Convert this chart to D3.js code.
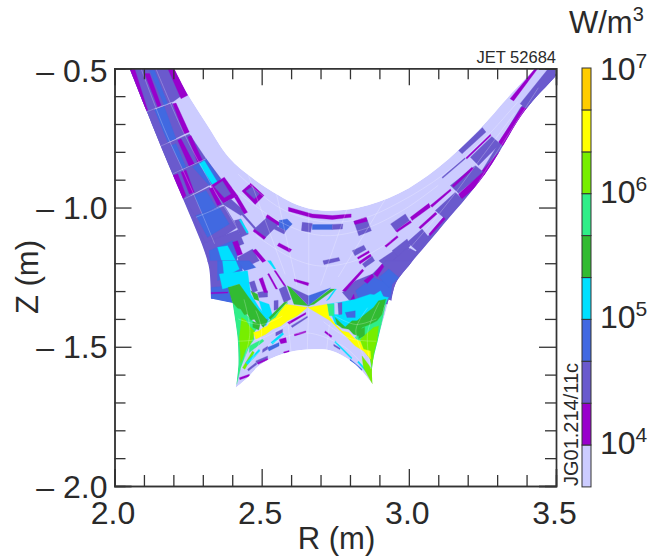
<!DOCTYPE html>
<html>
<head>
<meta charset="utf-8">
<script src="https://cdn.jsdelivr.net/npm/d3@7"></script>
<style>
    html, body { margin: 0; padding: 0; background: #fff; }
    svg { display: block; }
    text { font-family: "Liberation Sans", Arial, sans-serif; fill: #2a2a2a; }
</style>
</head>
<body>
<svg id="chart"></svg>
<script>
const WIDTH = 649;
const HEIGHT = 560;
const MARGIN = { top: 68.3, right: 93, bottom: 74, left: 114.5 };
const INNER_WIDTH = WIDTH - MARGIN.left - MARGIN.right;
const INNER_HEIGHT = HEIGHT - MARGIN.top - MARGIN.bottom;

// colour bar, bottom to top
const levelEdges = [4640, 1e4, 21500, 46400, 1e5, 215000, 464000, 1e6, 2150000, 4640000, 1e7];
const levelColors = ['#ccccff', '#9900cc', '#6a5acd', '#4169e1', '#00e0ff', '#32bb32', '#2fee88', '#77ee00', '#ffff00', '#ffcc00'];
const barTicks = [1e4, 1e5, 1e6, 1e7];

const rMajor = [2, 2.5, 3, 3.5];
const rMinor = [2.1, 2.2, 2.3, 2.4, 2.6, 2.7, 2.8, 2.9, 3.1, 3.2, 3.3, 3.4];
const zMajor = [-0.5, -1, -1.5, -2];
const zMinor = [-0.6, -0.7, -0.8, -0.9, -1.1, -1.2, -1.3, -1.4, -1.6, -1.7, -1.8, -1.9];

// grid outline in R, Z, one smooth run per side
const outlineRuns = [
    [[2.051, -0.5], [2.108, -0.651], [2.196, -0.878], [2.264, -1.047], [2.305, -1.155], [2.322, -1.22], [2.328, -1.327]],
    [[2.401, -1.343], [2.407, -1.383], [2.418, -1.467], [2.421, -1.563], [2.412, -1.647]],
    [[2.412, -1.647], [2.452, -1.611], [2.497, -1.563], [2.588, -1.521], [2.678, -1.509], [2.739, -1.515], [2.818, -1.563], [2.877, -1.635]],
    [[2.877, -1.635], [2.875, -1.575], [2.897, -1.467], [2.925, -1.359], [2.931, -1.329]],
    [[2.941, -1.335], [2.955, -1.273], [3.006, -1.201], [3.1, -1.083], [3.26, -0.878], [3.395, -0.651], [3.497, -0.53], [3.52, -0.5]],
    [[3.429, -0.5], [3.337, -0.604], [3.236, -0.723], [3.1, -0.856], [2.965, -0.95], [2.83, -1.0], [2.704, -1.011], [2.62, -0.99], [2.559, -0.957], [2.47, -0.895], [2.389, -0.82], [2.312, -0.698], [2.247, -0.59], [2.203, -0.5]]
];

// [level, R, Z, R, Z, ...]
const edgeBands = [
    [2, 2.03,-.5, 2.09,-.66, 2.18,-.88, 2.25,-1.05, 2.29,-1.16, 2.31,-1.2, 2.36,-1.2, 2.33,-1.15, 2.29,-1.03, 2.22,-.87, 2.14,-.66, 2.08,-.5],
    [2, 2.92,-1.33, 2.95,-1.26, 3.0,-1.19, 3.09,-1.07, 3.25,-.865, 3.38,-.64, 3.5,-.52, 3.52,-.55, 3.41,-.66, 3.28,-.88, 3.11,-1.1, 3.02,-1.21, 2.97,-1.28, 2.95,-1.35]
];

const leftLegPatches = [
    [2, 2.051,-.501, 2.192,-.501, 2.237,-.591, 2.198,-.621, 2.107,-.657],
    [1, 2.04,-.501, 2.068,-.501, 2.113,-.651, 2.09,-.661],
    [1, 2.181,-.501, 2.203,-.501, 2.249,-.597, 2.226,-.609],
    [1, 2.102,-.519, 2.119,-.519, 2.158,-.633, 2.147,-.639],
    [3, 2.119,-.507, 2.136,-.507, 2.181,-.627, 2.169,-.633],
    [2, 2.105,-.661, 2.195,-.625, 2.252,-.729, 2.153,-.781],
    [3, 2.136,-.649, 2.169,-.637, 2.209,-.753, 2.181,-.765],
    [1, 2.198,-.627, 2.209,-.625, 2.254,-.729, 2.237,-.735],
    [2, 2.153,-.781, 2.254,-.735, 2.311,-.825, 2.198,-.879],
    [1, 2.215,-.759, 2.226,-.753, 2.271,-.843, 2.254,-.853],
    [1, 2.249,-.747, 2.26,-.741, 2.299,-.831, 2.282,-.837],
    [3, 2.192,-.777, 2.209,-.771, 2.243,-.855, 2.232,-.861],
    [2, 2.198,-.879, 2.311,-.825, 2.362,-.897, 2.237,-.969],
    [3, 2.266,-.855, 2.311,-.825, 2.362,-.903, 2.322,-.921],
    [4, 2.288,-.843, 2.305,-.831, 2.35,-.909, 2.333,-.917],
    [1, 2.198,-.885, 2.215,-.879, 2.243,-.957, 2.232,-.969],
    [1, 2.226,-.873, 2.243,-.865, 2.271,-.945, 2.254,-.951],
    [1, 2.328,-.921, 2.373,-.891, 2.418,-.957, 2.367,-.987],
    [2, 2.339,-.925, 2.367,-.905, 2.395,-.951, 2.373,-.965],
    [1, 2.433,-.941, 2.463,-.913, 2.508,-.957, 2.478,-.989],
    [2, 2.446,-.941, 2.467,-.925, 2.492,-.951, 2.475,-.969],
    [2, 2.237,-.969, 2.322,-.925, 2.373,-.987, 2.277,-1.035],
    [3, 2.271,-.957, 2.311,-.939, 2.345,-.999, 2.299,-1.023],
    [1, 2.322,-.933, 2.333,-.927, 2.362,-.987, 2.35,-.993],
    [2, 2.266,-1.035, 2.373,-.993, 2.418,-1.071, 2.316,-1.143],
    [3, 2.277,-1.029, 2.356,-.999, 2.39,-1.059, 2.316,-1.107],
    [2, 2.367,-.987, 2.395,-.969, 2.446,-1.017, 2.429,-1.029],
    [1, 2.407,-.963, 2.418,-.957, 2.452,-1.017, 2.441,-1.023],
    [2, 2.407,-1.047, 2.429,-1.041, 2.455,-1.095, 2.429,-1.107],
    [4, 2.424,-1.045, 2.429,-1.041, 2.455,-1.089, 2.45,-1.093],
    [2, 2.475,-1.077, 2.525,-1.029, 2.559,-1.059, 2.508,-1.113],
    [1, 2.52,-1.025, 2.559,-1.053, 2.559,-1.065, 2.514,-1.035],
    [1, 2.475,-1.077, 2.514,-1.107, 2.508,-1.115, 2.471,-1.085],
    [2, 2.39,-.975, 2.395,-.971, 2.48,-1.073, 2.475,-1.077],
    [2, 2.3,-1.13, 2.42,-1.08, 2.44,-1.13, 2.32,-1.18],
    [3, 2.322,-1.155, 2.401,-1.119, 2.418,-1.167, 2.412,-1.221, 2.373,-1.239, 2.328,-1.251],
    [4, 2.35,-1.143, 2.384,-1.137, 2.418,-1.203, 2.373,-1.221],
    [2, 2.418,-1.179, 2.469,-1.149, 2.492,-1.191, 2.429,-1.221],
    [1, 2.401,-1.125, 2.418,-1.119, 2.435,-1.167, 2.418,-1.173],
    [1, 2.469,-1.155, 2.48,-1.149, 2.514,-1.191, 2.503,-1.197]
];

const crownPatches = [
    [1, 2.591,-.999, 2.672,-1.023, 2.74,-1.029, 2.804,-1.023, 2.804,-1.035, 2.74,-1.043, 2.672,-1.037, 2.591,-1.013],
    [2, 2.813,-1.049, 2.855,-1.035, 2.873,-1.083, 2.83,-1.101],
    [1, 2.813,-1.049, 2.855,-1.035, 2.859,-1.049, 2.817,-1.061],
    [3, 2.672,-1.061, 2.74,-1.061, 2.74,-1.079, 2.672,-1.079],
    [2, 2.638,-1.053, 2.672,-1.057, 2.666,-1.089, 2.635,-1.083],
    [2, 2.74,-1.061, 2.776,-1.059, 2.774,-1.077, 2.74,-1.079],
    [3, 2.559,-1.047, 2.587,-1.041, 2.604,-1.059, 2.582,-1.083, 2.559,-1.071],
    [2, 2.548,-1.065, 2.582,-1.083, 2.576,-1.095, 2.542,-1.077],
    [1, 2.559,-1.127, 2.602,-1.151, 2.595,-1.161, 2.553,-1.137],
    [2, 2.708,-1.191, 2.762,-1.179, 2.766,-1.191, 2.712,-1.205],
    [1, 2.61,-1.257, 2.661,-1.271, 2.658,-1.281, 2.612,-1.265],
    [2, 2.808,-1.155, 2.847,-1.135, 2.855,-1.151, 2.817,-1.173],
    [1, 2.825,-1.179, 2.864,-1.155, 2.866,-1.162, 2.828,-1.186],
    [1, 2.83,-1.195, 2.869,-1.167, 2.873,-1.175, 2.834,-1.203],
    [2, 2.842,-1.203, 2.875,-1.175, 2.884,-1.191, 2.851,-1.215],
    [2, 2.938,-1.059, 2.988,-1.023, 3.002,-1.047, 2.955,-1.083],
    [1, 2.955,-1.083, 3.005,-1.047, 3.009,-1.054, 2.96,-1.089],
    [1, 3.005,-1.035, 3.068,-.985, 3.073,-.999, 3.011,-1.047]
];

const rightLegPatches = [
    [2, 3.378,-.627, 3.474,-.501, 3.497,-.501, 3.497,-.555, 3.401,-.645],
    [1, 3.401,-.645, 3.497,-.537, 3.52,-.55, 3.409,-.665],
    [1, 3.344,-.609, 3.429,-.501, 3.438,-.501, 3.356,-.617],
    [1, 3.305,-.765, 3.384,-.639, 3.41,-.649, 3.327,-.787],
    [2, 3.209,-.819, 3.282,-.745, 3.31,-.771, 3.237,-.849],
    [2, 3.169,-.795, 3.25,-.713, 3.262,-.729, 3.181,-.807],
    [1, 3.194,-.821, 3.277,-.737, 3.279,-.742, 3.197,-.826],
    [2, 3.113,-.891, 3.19,-.821, 3.192,-.825, 3.115,-.895],
    [1, 3.248,-.869, 3.327,-.777, 3.34,-.795, 3.26,-.891],
    [2, 3.141,-.921, 3.226,-.849, 3.254,-.873, 3.169,-.949],
    [1, 3.147,-.921, 3.214,-.855, 3.22,-.861, 3.152,-.927],
    [1, 3.169,-.951, 3.251,-.873, 3.265,-.891, 3.178,-.971],
    [2, 3.09,-1.011, 3.158,-.945, 3.186,-.975, 3.124,-1.041],
    [1, 3.068,-1.095, 3.118,-1.035, 3.124,-1.041, 3.073,-1.101],
    [1, 3.073,-.993, 3.141,-.933, 3.144,-.939, 3.079,-.999],
    [1, 3.034,-1.071, 3.09,-1.017, 3.096,-1.023, 3.039,-1.077],
    [2, 2.994,-1.125, 3.045,-1.077, 3.068,-1.107, 3.028,-1.155],
    [2, 2.898,-1.191, 2.949,-1.155, 2.971,-1.179, 2.926,-1.215],
    [1, 2.918,-1.137, 2.96,-1.101, 2.964,-1.107, 2.923,-1.143],
    [2, 2.943,-1.155, 2.994,-1.113, 3.005,-1.137, 2.966,-1.179],
    [2, 2.938,-1.197, 2.997,-1.143, 3.028,-1.161, 2.971,-1.239],
    [1, 2.881,-1.239, 2.909,-1.203, 2.915,-1.209, 2.887,-1.245]
];

const xPointPatches = [
    // left wing
    [2, 2.311,-1.191, 2.424,-1.191, 2.435,-1.221, 2.384,-1.245, 2.384,-1.299, 2.328,-1.335, 2.32,-1.263],
    [3, 2.328,-1.287, 2.39,-1.281, 2.401,-1.343, 2.328,-1.329],
    [1, 2.328,-1.305, 2.385,-1.303, 2.385,-1.307, 2.328,-1.31],
    [3, 2.35,-1.191, 2.424,-1.191, 2.435,-1.227, 2.35,-1.263],
    [4, 2.367,-1.191, 2.412,-1.191, 2.424,-1.221, 2.373,-1.251],
    [3, 2.418,-1.191, 2.458,-1.191, 2.48,-1.215, 2.441,-1.227],
    [4, 2.52,-1.191, 2.531,-1.191, 2.548,-1.221, 2.542,-1.221],
    // left divertor
    [4, 2.356,-1.239, 2.452,-1.227, 2.458,-1.275, 2.463,-1.311, 2.491,-1.359, 2.525,-1.401, 2.514,-1.425, 2.452,-1.323, 2.424,-1.275, 2.386,-1.287, 2.367,-1.293],
    [4, 2.491,-1.335, 2.525,-1.347, 2.537,-1.389, 2.525,-1.401, 2.503,-1.377],
    [5, 2.463,-1.299, 2.486,-1.311, 2.491,-1.335, 2.475,-1.329],
    [2, 2.458,-1.269, 2.475,-1.263, 2.486,-1.299, 2.469,-1.305],
    [2, 2.486,-1.305, 2.52,-1.299, 2.52,-1.321, 2.491,-1.323],
    [2, 2.542,-1.335, 2.556,-1.333, 2.556,-1.365, 2.542,-1.369],
    [2, 2.559,-1.293, 2.582,-1.281, 2.599,-1.329, 2.576,-1.341],
    [2, 2.508,-1.401, 2.52,-1.401, 2.514,-1.419, 2.506,-1.419],
    [1, 2.491,-1.257, 2.503,-1.251, 2.52,-1.305, 2.508,-1.305],
    [1, 2.52,-1.239, 2.525,-1.237, 2.554,-1.293, 2.548,-1.293],
    [1, 2.542,-1.227, 2.548,-1.227, 2.582,-1.281, 2.576,-1.281],
    [6, 2.401,-1.341, 2.441,-1.377, 2.469,-1.407, 2.491,-1.425, 2.469,-1.455, 2.475,-1.473, 2.458,-1.497, 2.429,-1.575, 2.415,-1.635, 2.421,-1.563, 2.418,-1.467],
    [5, 2.386,-1.287, 2.424,-1.275, 2.452,-1.317, 2.491,-1.371, 2.52,-1.407, 2.506,-1.431, 2.495,-1.417, 2.486,-1.419, 2.475,-1.401, 2.463,-1.405, 2.452,-1.383, 2.441,-1.385, 2.429,-1.365, 2.418,-1.361, 2.401,-1.341],
    [5, 2.47,-1.41, 2.495,-1.417, 2.49,-1.44, 2.47,-1.43],
    [7, 2.432,-1.395, 2.446,-1.405, 2.458,-1.425, 2.475,-1.443, 2.472,-1.467, 2.458,-1.497, 2.446,-1.509, 2.438,-1.533, 2.429,-1.557, 2.427,-1.515, 2.424,-1.467],
    [5, 2.525,-1.395, 2.576,-1.341, 2.588,-1.337, 2.548,-1.383, 2.531,-1.407],
    [6, 2.52,-1.413, 2.548,-1.383, 2.588,-1.341, 2.585,-1.353, 2.548,-1.395, 2.531,-1.407],
    [8, 2.472,-1.449, 2.491,-1.443, 2.503,-1.433, 2.52,-1.425, 2.531,-1.407, 2.548,-1.395, 2.559,-1.377, 2.582,-1.347, 2.655,-1.359, 2.621,-1.389, 2.588,-1.407, 2.565,-1.425, 2.537,-1.437, 2.514,-1.455, 2.48,-1.473],
    // above the X point
    [5, 2.587,-1.281, 2.599,-1.287, 2.658,-1.353, 2.61,-1.347],
    [2, 2.599,-1.287, 2.659,-1.317, 2.659,-1.353],
    [3, 2.659,-1.353, 2.659,-1.317, 2.734,-1.289],
    [5, 2.659,-1.353, 2.734,-1.293, 2.749,-1.293, 2.678,-1.347],
    [4, 2.749,-1.293, 2.754,-1.293, 2.729,-1.329, 2.72,-1.335],
    // right wing
    [2, 2.774,-1.305, 2.819,-1.263, 2.876,-1.239, 2.921,-1.191, 3.011,-1.191, 2.989,-1.239, 2.943,-1.311, 2.932,-1.347, 2.853,-1.341, 2.819,-1.359],
    [3, 2.819,-1.299, 2.876,-1.251, 2.943,-1.275, 2.938,-1.323, 2.842,-1.359],
    [3, 2.898,-1.251, 2.932,-1.221, 2.966,-1.251, 2.932,-1.287],
    [4, 2.859,-1.329, 2.904,-1.299, 2.915,-1.323, 2.876,-1.347],
    [1, 2.774,-1.299, 2.842,-1.221, 2.847,-1.227, 2.785,-1.301],
    [1, 2.797,-1.341, 2.813,-1.311, 2.817,-1.335, 2.808,-1.341],
    [1, 2.847,-1.263, 2.876,-1.239, 2.881,-1.249, 2.859,-1.273],
    [1, 2.881,-1.239, 2.91,-1.203, 2.915,-1.213, 2.893,-1.249],
    // right divertor
    [4, 2.722,-1.347, 2.762,-1.341, 2.818,-1.329, 2.869,-1.311, 2.931,-1.323, 2.92,-1.347, 2.841,-1.407, 2.784,-1.431, 2.75,-1.419, 2.739,-1.389],
    [0, 2.747,-1.343, 2.759,-1.343, 2.762,-1.383, 2.748,-1.383],
    [2, 2.759,-1.343, 2.773,-1.341, 2.773,-1.383, 2.762,-1.385],
    [3, 2.784,-1.377, 2.818,-1.371, 2.818,-1.395, 2.79,-1.395],
    [6, 2.722,-1.347, 2.745,-1.347, 2.745,-1.389, 2.728,-1.389],
    [6, 2.818,-1.467, 2.841,-1.431, 2.909,-1.383, 2.925,-1.329, 2.914,-1.383, 2.897,-1.467, 2.88,-1.635, 2.869,-1.539, 2.846,-1.509],
    [5, 2.75,-1.395, 2.767,-1.413, 2.784,-1.429, 2.807,-1.407, 2.824,-1.407, 2.858,-1.377, 2.88,-1.359, 2.897,-1.335, 2.922,-1.329, 2.909,-1.383, 2.892,-1.407, 2.869,-1.419, 2.841,-1.431, 2.829,-1.461, 2.812,-1.455, 2.796,-1.437, 2.773,-1.433, 2.756,-1.419],
    [5, 2.83,-1.44, 2.85,-1.43, 2.85,-1.46, 2.83,-1.47],
    [7, 2.835,-1.473, 2.88,-1.431, 2.897,-1.425, 2.892,-1.479, 2.88,-1.527, 2.877,-1.587, 2.869,-1.545, 2.846,-1.509],
    [8, 2.657,-1.359, 2.722,-1.347, 2.728,-1.389, 2.75,-1.419, 2.773,-1.443, 2.796,-1.449, 2.818,-1.473, 2.835,-1.479, 2.846,-1.509, 2.869,-1.515, 2.871,-1.545, 2.846,-1.515, 2.818,-1.497, 2.79,-1.467, 2.767,-1.443, 2.733,-1.407]
];

const lowerDashes = [
    [2, 2.548,-1.449, 2.571,-1.437, 2.571,-1.449, 2.548,-1.461],
    [4, 2.531,-1.485, 2.571,-1.449, 2.575,-1.455, 2.537,-1.491],
    [1, 2.559,-1.473, 2.582,-1.467, 2.585,-1.485, 2.565,-1.489],
    [3, 2.52,-1.503, 2.559,-1.485, 2.559,-1.497, 2.525,-1.515],
    [2, 2.503,-1.509, 2.52,-1.497, 2.52,-1.509, 2.503,-1.521],
    [1, 2.61,-1.455, 2.65,-1.443, 2.65,-1.449, 2.612,-1.461],
    [1, 2.574,-1.519, 2.593,-1.513, 2.593,-1.519, 2.576,-1.523],
    [2, 2.48,-1.551, 2.52,-1.533, 2.52,-1.541, 2.484,-1.561],
    [7, 2.435,-1.575, 2.469,-1.515, 2.475,-1.521, 2.443,-1.581],
    [4, 2.446,-1.557, 2.491,-1.509, 2.495,-1.515, 2.452,-1.565],
    [6, 2.458,-1.497, 2.503,-1.473, 2.508,-1.479, 2.458,-1.521],
    [2, 2.452,-1.581, 2.48,-1.557, 2.484,-1.563, 2.455,-1.587],
    [1, 2.424,-1.611, 2.458,-1.599, 2.459,-1.606, 2.426,-1.618],
    [1, 2.486,-1.557, 2.52,-1.541, 2.521,-1.547, 2.488,-1.563],
    [2, 2.6,-1.425, 2.655,-1.39, 2.656,-1.395, 2.604,-1.431],
    [1, 2.588,-1.413, 2.65,-1.377, 2.65,-1.383, 2.593,-1.419],
    [1, 2.716,-1.443, 2.739,-1.461, 2.736,-1.467, 2.714,-1.449],
    [1, 2.733,-1.521, 2.762,-1.537, 2.759,-1.543, 2.733,-1.527],
    [2, 2.745,-1.491, 2.767,-1.505, 2.765,-1.51, 2.745,-1.497],
    [4, 2.75,-1.479, 2.807,-1.539, 2.805,-1.544, 2.748,-1.484],
    [3, 2.801,-1.545, 2.841,-1.581, 2.839,-1.586, 2.799,-1.55],
    [1, 2.812,-1.575, 2.835,-1.593, 2.833,-1.598, 2.81,-1.58],
    [4, 2.829,-1.551, 2.869,-1.599, 2.866,-1.604, 2.826,-1.556],
    [7, 2.841,-1.533, 2.875,-1.581, 2.877,-1.635, 2.846,-1.575]
];

// faint grid lines, R, Z pairs
const meshLines = [
    [2.66,-1.011, 2.66,-1.35], [2.55,-0.95, 2.62,-1.28], [2.45,-0.87, 2.58,-1.24], [2.79,-1.005, 2.7,-1.28], [2.92,-0.97, 2.76,-1.25],
    [2.4,-0.93, 2.56,-1.05, 2.7,-1.1, 2.84,-1.08, 2.98,-1.01, 3.1,-0.92],
    [2.48,-1.1, 2.6,-1.18, 2.7,-1.21, 2.82,-1.19, 2.94,-1.12],
    [2.42,-0.88, 2.56,-1.0, 2.7,-1.05, 2.84,-1.04, 2.97,-0.98, 3.12,-0.88, 3.26,-0.75, 3.37,-0.62],
    [2.46,-1.55, 2.53,-1.49, 2.65,-1.45, 2.78,-1.5, 2.84,-1.56],
    [2.66,-1.36, 2.655,-1.51], [2.59,-1.42, 2.6,-1.52], [2.73,-1.42, 2.72,-1.52],
    [2.09,-.5, 2.17,-.72, 2.26,-.93, 2.34,-1.13], [2.14,-.5, 2.23,-.72, 2.33,-.92, 2.42,-1.08],
    [2.107,-.657, 2.198,-.621], [2.153,-.781, 2.254,-.735], [2.198,-.879, 2.311,-.825], [2.237,-.969, 2.322,-.925], [2.277,-1.035, 2.373,-.993],
    [3.03,-1.17, 3.16,-1.03, 3.3,-.8, 3.44,-.57], [3.0,-1.15, 3.12,-1.0, 3.24,-.83, 3.36,-.66],
    [2.44,-1.33, 2.46,-1.45, 2.43,-1.58], [2.48,-1.37, 2.5,-1.45, 2.46,-1.56], [2.42,-1.4, 2.5,-1.42, 2.57,-1.39], [2.42,-1.48, 2.5,-1.47, 2.6,-1.41],
    [2.9,-1.34, 2.86,-1.45, 2.87,-1.58], [2.86,-1.36, 2.82,-1.44, 2.85,-1.54], [2.89,-1.4, 2.82,-1.42, 2.75,-1.39], [2.89,-1.48, 2.8,-1.47, 2.71,-1.41]
];

const allPatches = [...edgeBands, ...leftLegPatches, ...crownPatches, ...rightLegPatches, ...xPointPatches, ...lowerDashes];

const svg = d3.select('#chart')
    .attr('width', WIDTH)
    .attr('height', HEIGHT);

const g = svg.append('g')
    .attr('transform', 'translate(' + MARGIN.left + ',' + MARGIN.top + ')');

// scales
const xScale = d3.scaleLinear().domain([2, 3.5]).range([0, INNER_WIDTH]);
const yScale = d3.scaleLinear().domain([-0.5, -2]).range([0, INNER_HEIGHT]);
const barScale = d3.scaleLog().domain([1e7, 1e4]).range([68, 445]);

const toPoints = (flat) => d3.range(0, flat.length, 2).map((i) => [flat[i], flat[i + 1]]);
const line = d3.line().x((d) => xScale(d[0])).y((d) => yScale(d[1]));
const smooth = d3.line().x((d) => xScale(d[0])).y((d) => yScale(d[1])).curve(d3.curveCatmullRom);

// join the runs into one closed path
const outlinePath = outlineRuns
    .map((run, i) => (i === 0 ? smooth(run) : 'L' + smooth(run).slice(1)))
    .join('') + 'Z';

const defs = svg.append('defs');
defs.append('clipPath').attr('id', 'frame-clip').append('rect')
    .attr('width', INNER_WIDTH).attr('height', INNER_HEIGHT);
defs.append('clipPath').attr('id', 'grid-clip').append('path').attr('d', outlinePath);

const plot = g.append('g').attr('clip-path', 'url(#frame-clip)').append('g').attr('clip-path', 'url(#grid-clip)');

plot.append('path')
    .attr('d', outlinePath)
    .attr('fill', levelColors[0]);

plot.selectAll('.patch')
    .data(allPatches)
    .join('path')
    .attr('class', 'patch')
    .attr('d', (d) => line(toPoints(d.slice(1))) + 'Z')
    .attr('fill', (d) => levelColors[d[0]])
    .attr('stroke', (d) => levelColors[d[0]])
    .attr('stroke-width', 0.3);

plot.selectAll('.mesh')
    .data(meshLines)
    .join('path')
    .attr('class', 'mesh')
    .attr('d', (d) => smooth(toPoints(d)))
    .attr('fill', 'none')
    .attr('stroke', '#fff')
    .attr('stroke-opacity', 0.3)
    .attr('stroke-width', 0.8);

// axes
const tickColor = '#333';
function addAxis(axisFn, scale, values, size, translate, format, padding) {
    const axis = axisFn(scale).tickValues(values).tickSizeOuter(0).tickSize(-size).tickPadding(padding || 0)
        .tickFormat(format || '');
    const a = g.append('g').attr('transform', translate).call(axis);
    a.selectAll('.tick line').attr('stroke', tickColor).attr('stroke-width', 1.3);
    a.select('.domain').attr('stroke', tickColor).attr('stroke-width', 1.4);
    a.selectAll('text').style('font-family', '"Liberation Sans", Arial, sans-serif').style('font-size', '32px').attr('fill', '#2a2a2a');
    return a;
}

const bottom = 'translate(0,' + INNER_HEIGHT + ')';
const right = 'translate(' + INNER_WIDTH + ',0)';
addAxis(d3.axisBottom, xScale, rMinor, 11, bottom);
addAxis(d3.axisBottom, xScale, rMajor, 17, bottom, d3.format('.1f'), 15)
    .selectAll('text').attr('dx', -2);
addAxis(d3.axisTop, xScale, rMinor, 11, 'translate(0,0)');
addAxis(d3.axisTop, xScale, rMajor, 17, 'translate(0,0)');
addAxis(d3.axisLeft, yScale, zMinor, 11, 'translate(0,0)');
addAxis(d3.axisLeft, yScale, zMajor, 17, 'translate(0,0)', (d) => '\u2013 ' + Math.abs(d).toFixed(1), 7)
    .selectAll('text').attr('dy', (d) => (d === -0.5 ? 13.5 : 11));
addAxis(d3.axisRight, yScale, zMinor, 11, right);
addAxis(d3.axisRight, yScale, zMajor, 17, right);

// axis titles
svg.append('text').attr('x', 336.5).attr('y', 549).attr('text-anchor', 'middle').attr('font-size', 31).text('R (m)');
svg.append('text').attr('transform', 'translate(38,277) rotate(-90)').attr('text-anchor', 'middle').attr('font-size', 31).text('Z (m)');
svg.append('text').attr('x', 556).attr('y', 63).attr('text-anchor', 'end').attr('font-size', 16.5).text('JET 52684');
svg.append('text').attr('transform', 'translate(578,486) rotate(-90)').attr('font-size', 20).text('JG01.214/11c');

// colour bar
const barX = 582;
const barW = 9;
svg.selectAll('.level')
    .data(levelColors)
    .join('rect')
    .attr('class', 'level')
    .attr('x', barX)
    .attr('width', barW)
    .attr('y', (d, i) => barScale(levelEdges[i + 1]))
    .attr('height', (d, i) => barScale(levelEdges[i]) - barScale(levelEdges[i + 1]))
    .attr('fill', (d) => d)
    .attr('stroke', '#333')
    .attr('stroke-width', 1);

const barLabels = svg.selectAll('.bar-label')
    .data(barTicks)
    .join('text')
    .attr('class', 'bar-label')
    .attr('x', 600)
    .attr('y', (d) => barScale(d) + (d === 1e7 ? 12 : 9))
    .attr('font-size', 32);
barLabels.append('tspan').text('10');
barLabels.append('tspan')
    .attr('dy', -12)
    .attr('font-size', 21)
    .text((d) => Math.round(Math.log10(d)));

const unit = svg.append('text').attr('x', 569).attr('y', 33).attr('font-size', 31);
unit.append('tspan').text('W/m');
unit.append('tspan').attr('dy', -12).attr('font-size', 20).text('3');
</script>
</body>
</html>
